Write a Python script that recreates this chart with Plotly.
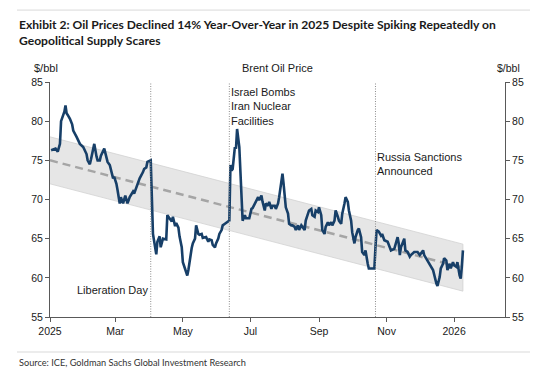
import plotly.graph_objects as go

# ---------------- data ----------------
dates = [
    "2025-01-02", "2025-01-06", "2025-01-08", "2025-01-10", "2025-01-11", "2025-01-13", "2025-01-14",
    "2025-01-15", "2025-01-16", "2025-01-17", "2025-01-19", "2025-01-21", "2025-01-22", "2025-01-25",
    "2025-01-28", "2025-01-31", "2025-02-03", "2025-02-04", "2025-02-06", "2025-02-07", "2025-02-10",
    "2025-02-12", "2025-02-13", "2025-02-15", "2025-02-16", "2025-02-19", "2025-02-21", "2025-02-22",
    "2025-02-24", "2025-02-25", "2025-02-27", "2025-02-28", "2025-03-02", "2025-03-03", "2025-03-05",
    "2025-03-06", "2025-03-08", "2025-03-10", "2025-03-12", "2025-03-14", "2025-03-15", "2025-03-17",
    "2025-03-18", "2025-03-20", "2025-03-23", "2025-03-26", "2025-03-27", "2025-03-29", "2025-03-30",
    "2025-04-02", "2025-04-03", "2025-04-04", "2025-04-07", "2025-04-08", "2025-04-10", "2025-04-11",
    "2025-04-13", "2025-04-16", "2025-04-17", "2025-04-19", "2025-04-21", "2025-04-22", "2025-04-24",
    "2025-04-25", "2025-04-27", "2025-04-28", "2025-04-30", "2025-05-01", "2025-05-03", "2025-05-04",
    "2025-05-05", "2025-05-06", "2025-05-07", "2025-05-09", "2025-05-10", "2025-05-12", "2025-05-13",
    "2025-05-15", "2025-05-16", "2025-05-18", "2025-05-19", "2025-05-22", "2025-05-24", "2025-05-25",
    "2025-05-27", "2025-05-28", "2025-05-30", "2025-05-31", "2025-06-02", "2025-06-03", "2025-06-05",
    "2025-06-06", "2025-06-08", "2025-06-10", "2025-06-12", "2025-06-13", "2025-06-14", "2025-06-15",
    "2025-06-17", "2025-06-18", "2025-06-19", "2025-06-21", "2025-06-22", "2025-06-23", "2025-06-24",
    "2025-06-26", "2025-06-27", "2025-06-30", "2025-07-02", "2025-07-03", "2025-07-05", "2025-07-06",
    "2025-07-08", "2025-07-09", "2025-07-11", "2025-07-12", "2025-07-14", "2025-07-15", "2025-07-17",
    "2025-07-18", "2025-07-20", "2025-07-21", "2025-07-23", "2025-07-24", "2025-07-26", "2025-07-27",
    "2025-07-29", "2025-07-30", "2025-07-31", "2025-08-01", "2025-08-02", "2025-08-04", "2025-08-05",
    "2025-08-07", "2025-08-08", "2025-08-10", "2025-08-11", "2025-08-13", "2025-08-14", "2025-08-16",
    "2025-08-17", "2025-08-19", "2025-08-20", "2025-08-22", "2025-08-23", "2025-08-25", "2025-08-26",
    "2025-08-28", "2025-08-29", "2025-08-31", "2025-09-01", "2025-09-03", "2025-09-04", "2025-09-06",
    "2025-09-07", "2025-09-09", "2025-09-10", "2025-09-12", "2025-09-13", "2025-09-15", "2025-09-16",
    "2025-09-18", "2025-09-19", "2025-09-21", "2025-09-22", "2025-09-24", "2025-09-25", "2025-09-27",
    "2025-09-28", "2025-09-30", "2025-10-01", "2025-10-03", "2025-10-04", "2025-10-06", "2025-10-07",
    "2025-10-09", "2025-10-10", "2025-10-12", "2025-10-13", "2025-10-15", "2025-10-16", "2025-10-19",
    "2025-10-21", "2025-10-22", "2025-10-23", "2025-10-25", "2025-10-27", "2025-10-28", "2025-10-30",
    "2025-11-02", "2025-11-05", "2025-11-08", "2025-11-11", "2025-11-12", "2025-11-13", "2025-11-14",
    "2025-11-16", "2025-11-17", "2025-11-18", "2025-11-20", "2025-11-22", "2025-11-23", "2025-11-26",
    "2025-11-29", "2025-12-01", "2025-12-04", "2025-12-05", "2025-12-08", "2025-12-11", "2025-12-13",
    "2025-12-16", "2025-12-17", "2025-12-19", "2025-12-20", "2025-12-22", "2025-12-23", "2025-12-25",
    "2025-12-26", "2025-12-28", "2025-12-29", "2025-12-31", "2026-01-01", "2026-01-03", "2026-01-04",
    "2026-01-06", "2026-01-07", "2026-01-08", "2026-01-09",
]
brent = [
    76.3, 76.5, 76.1, 77.1, 80.0, 80.9, 81.2,
    82.0, 81.0, 80.8, 80.3, 79.6, 78.8, 78.0,
    77.1, 76.7, 75.8, 75.0, 74.5, 75.1, 77.1,
    75.5, 75.0, 75.0, 75.6, 76.5, 75.4, 74.8,
    74.4, 73.7, 72.7, 72.9, 72.0, 71.2, 69.5,
    70.3, 69.5, 70.5, 69.5, 70.3, 70.5, 71.0,
    70.75, 71.6, 72.7, 73.5, 73.9, 74.1, 74.8,
    75.0, 71.0, 65.6, 63.0, 64.6, 65.3, 63.9,
    65.0, 64.9, 68.0, 67.6, 67.2, 67.8, 66.6,
    67.0, 66.4, 65.3, 63.9, 62.0, 61.1, 60.5,
    60.3, 61.0, 62.1, 63.8, 64.4, 65.0, 66.7,
    65.6, 65.5, 65.6, 65.1, 65.2, 64.6, 64.9,
    64.8, 64.2, 63.9, 64.4, 65.0, 65.6, 66.1,
    66.7, 66.9, 67.1, 67.3, 74.4, 73.7, 73.9,
    76.7, 76.5, 79.0, 76.7, 72.9, 69.3, 67.3,
    68.0, 67.6, 67.6, 68.8, 68.9, 69.5, 69.6,
    70.3, 69.9, 70.5, 69.7, 68.6, 69.5, 69.2,
    69.7, 68.8, 69.2, 69.2, 68.8, 69.5, 70.3,
    72.4, 73.3, 72.0, 69.9, 69.0, 68.2, 66.9,
    66.7, 66.7, 66.5, 66.1, 66.7, 66.1, 66.7,
    66.5, 66.1, 67.3, 68.0, 68.6, 68.8, 68.0,
    67.8, 68.6, 68.4, 69.0, 68.0, 66.1, 65.6,
    66.5, 67.1, 66.7, 67.1, 66.7, 67.3, 68.6,
    67.8, 67.3, 66.9, 68.2, 69.5, 70.3, 69.7,
    68.6, 67.3, 65.8, 64.4, 65.2, 66.1, 66.3,
    65.2, 63.3, 62.9, 63.5, 61.8, 61.2, 61.2,
    61.2, 63.9, 66.1, 65.9, 65.4, 65.6, 64.8,
    64.6, 63.5, 63.7, 65.2, 64.4, 62.9, 63.9,
    64.8, 65.0, 63.5, 63.3, 62.7, 62.9, 63.3,
    63.3, 62.9, 63.5, 62.9, 62.2, 61.6, 61.0,
    59.3, 58.95, 60.1, 61.2, 61.8, 62.5, 62.2,
    61.0, 61.8, 61.2, 62.0, 61.6, 61.4, 62.0,
    60.3, 59.9, 61.4, 63.5,
]

trend_dates = ["2025-01-01", "2026-01-09"]
trend_values = [75.0, 61.3]
band_halfwidth = 3.0

event_dates = ["2025-04-02", "2025-06-12", "2025-10-22"]
event_labels = ["Liberation Day", "Israel Bombs<br>Iran Nuclear<br>Facilities", "Russia Sanctions<br>Announced"]

tick_dates = ["2025-01-01", "2025-03-01", "2025-05-01", "2025-07-01", "2025-09-01", "2025-11-01", "2026-01-01"]
tick_labels = ["2025", "Mar", "May", "Jul", "Sep", "Nov", "2026"]
y_ticks = [55, 60, 65, 70, 75, 80, 85]

title_text = "Exhibit 2: Oil Prices Declined 14% Year-Over-Year in 2025 Despite Spiking Repeatedly on<br>Geopolitical Supply Scares"
source_text = "Source: ICE, Goldman Sachs Global Investment Research"

# ---------------- figure ----------------
CHART_FONT = "Arial, Liberation Sans, sans-serif"
TITLE_FONT = "Lato, Open Sans, sans-serif"
TEXT_COLOR = "#1a1a1a"

upper = [v + band_halfwidth for v in trend_values]
lower = [v - band_halfwidth for v in trend_values]

fig = go.Figure()

# band as closed polygon
fig.add_trace(go.Scatter(
    x=trend_dates + trend_dates[::-1],
    y=upper + lower[::-1],
    fill="toself", fillcolor="#e6e6e6",
    line=dict(color="#d2d2d2", width=0.8),
    mode="lines", hoverinfo="skip", showlegend=False,
))
# dashed trend
fig.add_trace(go.Scatter(
    x=trend_dates, y=trend_values, mode="lines",
    line=dict(color="#a5a5a5", width=2.5, dash="8px,5px"),
    hoverinfo="skip", showlegend=False,
))
# brent line
fig.add_trace(go.Scatter(
    x=dates, y=brent, mode="lines",
    line=dict(color="#173f68", width=2.6),
    showlegend=False,
))
# invisible trace for right axis
fig.add_trace(go.Scatter(
    x=[dates[0]], y=[brent[0]], yaxis="y2", mode="markers",
    marker=dict(opacity=0), hoverinfo="skip", showlegend=False,
))

shapes = []
for d in event_dates:
    shapes.append(dict(type="line", xref="x", yref="y", x0=d, x1=d, y0=55, y1=85,
                       line=dict(color="#8c8c8c", width=1, dash="1px,1.5px"), layer="above"))
# rule lines at top and bottom of the exhibit
shapes.append(dict(type="line", xref="paper", yref="paper", x0=-0.0725, x1=1.08, y0=1.306, y1=1.306,
                   line=dict(color="#d9d9d9", width=1)))
shapes.append(dict(type="line", xref="paper", yref="paper", x0=-0.0725, x1=1.08, y0=-0.149, y1=-0.149,
                   line=dict(color="#d9d9d9", width=1)))

annotations = [
    dict(text=title_text, xref="paper", yref="paper", x=-0.0725, y=1.283, xanchor="left", yanchor="top",
         align="left", showarrow=False, font=dict(family=TITLE_FONT, size=12.1, color=TEXT_COLOR, weight="bold")),
    dict(text=source_text, xref="paper", yref="paper", x=-0.0725, y=-0.1915, xanchor="left", yanchor="middle",
         align="left", showarrow=False, font=dict(family=TITLE_FONT, size=9.2, color="#333333")),
    dict(text="$/bbl", xref="paper", yref="paper", x=-0.009, y=1.06, xanchor="center", yanchor="middle",
         showarrow=False, font=dict(family=CHART_FONT, size=11, color=TEXT_COLOR)),
    dict(text="$/bbl", xref="paper", yref="paper", x=1.0066, y=1.06, xanchor="center", yanchor="middle",
         showarrow=False, font=dict(family=CHART_FONT, size=10.5, color=TEXT_COLOR)),
    dict(text="Brent Oil Price", xref="paper", yref="paper", x=0.501, y=1.06, xanchor="center", yanchor="middle",
         showarrow=False, font=dict(family=CHART_FONT, size=11, color=TEXT_COLOR)),
    dict(text=event_labels[0], xref="x", yref="y", x=event_dates[0], y=58.5, xanchor="right", yanchor="middle",
         xshift=-1, showarrow=False, align="right", font=dict(family=CHART_FONT, size=11, color=TEXT_COLOR)),
    dict(text=event_labels[1], xref="x", yref="y", x=event_dates[1], y=85, xanchor="left", yanchor="top",
         xshift=0, yshift=-2, showarrow=False, align="left", font=dict(family=CHART_FONT, size=11, color=TEXT_COLOR)),
    dict(text=event_labels[2], xref="x", yref="y", x=event_dates[2], y=76.5, xanchor="left", yanchor="top",
         xshift=0, showarrow=False, align="left", font=dict(family=CHART_FONT, size=11, color=TEXT_COLOR)),
]

axis_common = dict(showgrid=False, zeroline=False, showline=True, linecolor="#595959", linewidth=1,
                   ticks="outside", ticklen=4, tickcolor="#595959", tickwidth=1,
                   tickfont=dict(family=CHART_FONT, size=10.5, color=TEXT_COLOR))

# page body has an 8px margin, so the figure is 16px smaller than the window
fig.update_layout(
    width=530, height=368,
    margin=dict(l=42, r=33, t=74, b=59, pad=0),
    plot_bgcolor="white", paper_bgcolor="white",
    showlegend=False,
    xaxis=dict(type="date", range=["2025-01-01", "2026-02-16"], tickvals=tick_dates, ticktext=tick_labels,
               **axis_common),
    yaxis=dict(range=[55, 85], tickvals=y_ticks, **axis_common),
    yaxis2=dict(range=[55, 85], tickvals=y_ticks, overlaying="y", side="right", **axis_common),
    shapes=shapes,
    annotations=annotations,
)

fig.write_html("out.html")
